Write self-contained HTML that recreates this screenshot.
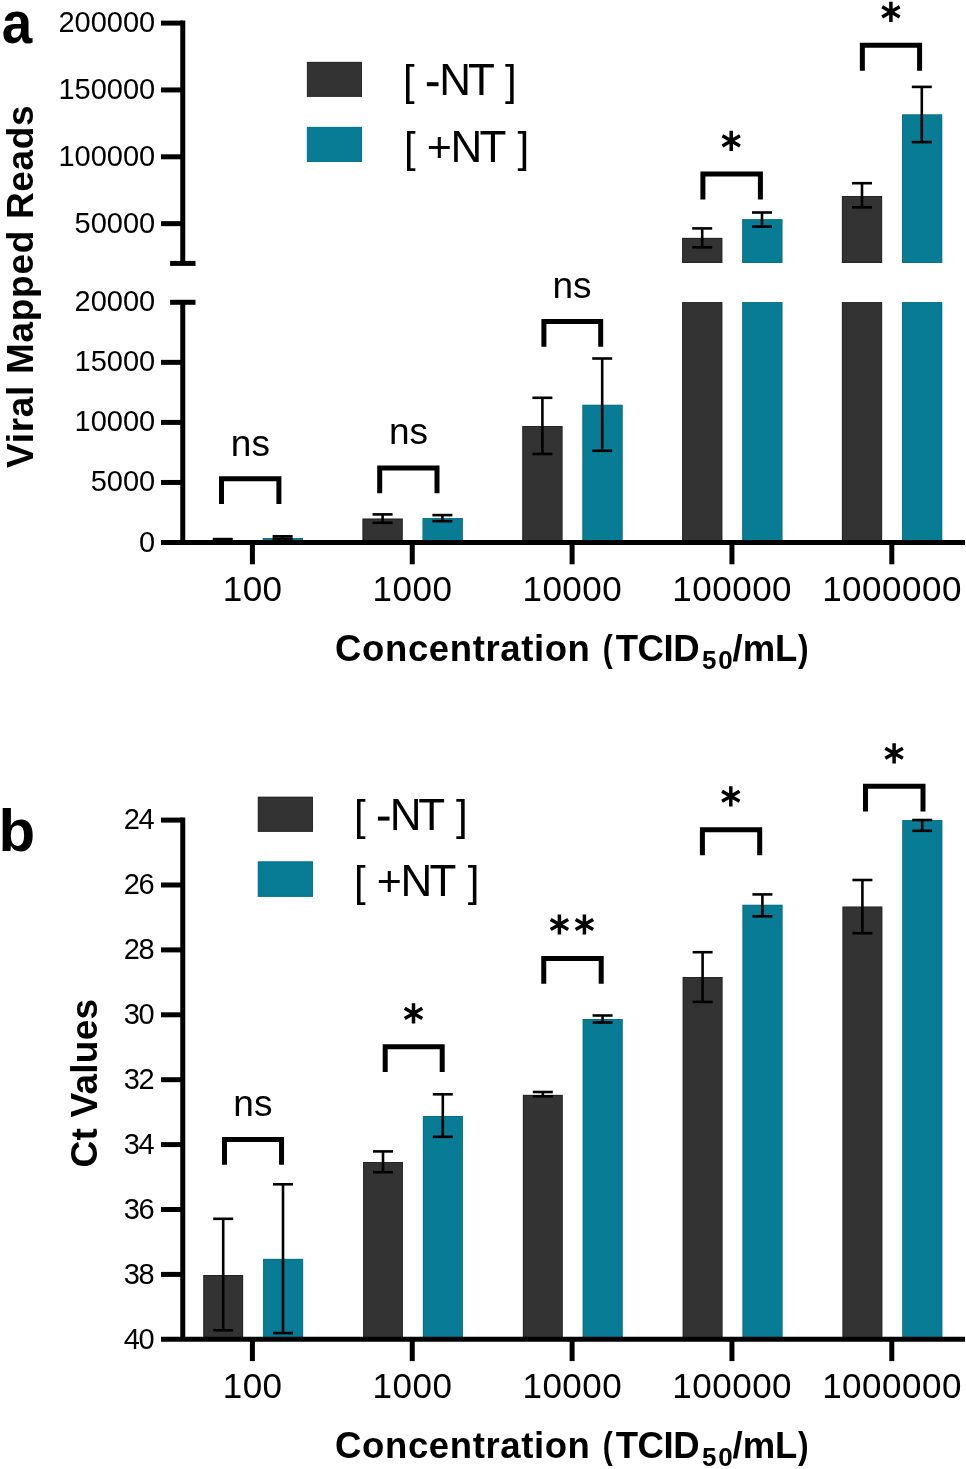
<!DOCTYPE html>
<html><head><meta charset="utf-8"><style>
html,body{margin:0;padding:0;background:#fff;overflow:hidden;}
svg{display:block;will-change:transform;}
text{font-family:"Liberation Sans",sans-serif;fill:#000;}
</style></head><body>
<svg width="966" height="1469" viewBox="0 0 966 1469">
<rect width="966" height="1469" fill="#fff"/>
<rect x="306.90" y="61.90" width="55.10" height="35.00" fill="#333333"/>
<rect x="307.40" y="62.40" width="54.10" height="34.00" fill="none" stroke="#1a1a1a" stroke-width="1" stroke-opacity="0.35"/>
<rect x="306.90" y="126.90" width="55.10" height="35.10" fill="#087c95"/>
<rect x="307.40" y="127.40" width="54.10" height="34.10" fill="none" stroke="#056a80" stroke-width="1" stroke-opacity="0.35"/>
<rect x="262.80" y="538.10" width="40.20" height="4.40" fill="#087c95"/>
<rect x="263.30" y="538.60" width="39.20" height="3.40" fill="none" stroke="#056a80" stroke-width="1" stroke-opacity="0.6"/>
<rect x="362.50" y="518.60" width="40.20" height="23.90" fill="#333333"/>
<rect x="363.00" y="519.10" width="39.20" height="22.90" fill="none" stroke="#1a1a1a" stroke-width="1" stroke-opacity="0.6"/>
<rect x="422.60" y="518.10" width="40.20" height="24.40" fill="#087c95"/>
<rect x="423.10" y="518.60" width="39.20" height="23.40" fill="none" stroke="#056a80" stroke-width="1" stroke-opacity="0.6"/>
<rect x="522.30" y="426.00" width="40.20" height="116.50" fill="#333333"/>
<rect x="522.80" y="426.50" width="39.20" height="115.50" fill="none" stroke="#1a1a1a" stroke-width="1" stroke-opacity="0.6"/>
<rect x="582.40" y="404.80" width="40.20" height="137.70" fill="#087c95"/>
<rect x="582.90" y="405.30" width="39.20" height="136.70" fill="none" stroke="#056a80" stroke-width="1" stroke-opacity="0.6"/>
<rect x="682.10" y="302.10" width="40.20" height="240.40" fill="#333333"/>
<rect x="682.60" y="302.60" width="39.20" height="239.40" fill="none" stroke="#1a1a1a" stroke-width="1" stroke-opacity="0.6"/>
<rect x="742.20" y="302.10" width="40.20" height="240.40" fill="#087c95"/>
<rect x="742.70" y="302.60" width="39.20" height="239.40" fill="none" stroke="#056a80" stroke-width="1" stroke-opacity="0.6"/>
<rect x="841.90" y="302.10" width="40.20" height="240.40" fill="#333333"/>
<rect x="842.40" y="302.60" width="39.20" height="239.40" fill="none" stroke="#1a1a1a" stroke-width="1" stroke-opacity="0.6"/>
<rect x="902.00" y="302.10" width="40.20" height="240.40" fill="#087c95"/>
<rect x="902.50" y="302.60" width="39.20" height="239.40" fill="none" stroke="#056a80" stroke-width="1" stroke-opacity="0.6"/>
<rect x="682.10" y="237.90" width="40.20" height="25.10" fill="#333333"/>
<rect x="682.60" y="238.40" width="39.20" height="24.10" fill="none" stroke="#1a1a1a" stroke-width="1" stroke-opacity="0.6"/>
<rect x="742.20" y="219.20" width="40.20" height="43.80" fill="#087c95"/>
<rect x="742.70" y="219.70" width="39.20" height="42.80" fill="none" stroke="#056a80" stroke-width="1" stroke-opacity="0.6"/>
<rect x="841.90" y="196.00" width="40.20" height="67.00" fill="#333333"/>
<rect x="842.40" y="196.50" width="39.20" height="66.00" fill="none" stroke="#1a1a1a" stroke-width="1" stroke-opacity="0.6"/>
<rect x="902.00" y="114.40" width="40.20" height="148.60" fill="#087c95"/>
<rect x="902.50" y="114.90" width="39.20" height="147.60" fill="none" stroke="#056a80" stroke-width="1" stroke-opacity="0.6"/>
<rect x="257.80" y="796.70" width="55.20" height="35.20" fill="#333333"/>
<rect x="258.30" y="797.20" width="54.20" height="34.20" fill="none" stroke="#1a1a1a" stroke-width="1" stroke-opacity="0.35"/>
<rect x="257.80" y="861.30" width="55.20" height="35.60" fill="#087c95"/>
<rect x="258.30" y="861.80" width="54.20" height="34.60" fill="none" stroke="#056a80" stroke-width="1" stroke-opacity="0.35"/>
<rect x="203.30" y="1275.00" width="39.80" height="64.30" fill="#333333"/>
<rect x="203.80" y="1275.50" width="38.80" height="63.30" fill="none" stroke="#1a1a1a" stroke-width="1" stroke-opacity="0.6"/>
<rect x="263.10" y="1258.90" width="40.00" height="80.40" fill="#087c95"/>
<rect x="263.60" y="1259.40" width="39.00" height="79.40" fill="none" stroke="#056a80" stroke-width="1" stroke-opacity="0.6"/>
<rect x="363.10" y="1162.00" width="39.80" height="177.30" fill="#333333"/>
<rect x="363.60" y="1162.50" width="38.80" height="176.30" fill="none" stroke="#1a1a1a" stroke-width="1" stroke-opacity="0.6"/>
<rect x="422.90" y="1116.00" width="40.00" height="223.30" fill="#087c95"/>
<rect x="423.40" y="1116.50" width="39.00" height="222.30" fill="none" stroke="#056a80" stroke-width="1" stroke-opacity="0.6"/>
<rect x="522.90" y="1094.90" width="39.80" height="244.40" fill="#333333"/>
<rect x="523.40" y="1095.40" width="38.80" height="243.40" fill="none" stroke="#1a1a1a" stroke-width="1" stroke-opacity="0.6"/>
<rect x="582.70" y="1019.00" width="40.00" height="320.30" fill="#087c95"/>
<rect x="583.20" y="1019.50" width="39.00" height="319.30" fill="none" stroke="#056a80" stroke-width="1" stroke-opacity="0.6"/>
<rect x="682.70" y="977.00" width="39.80" height="362.30" fill="#333333"/>
<rect x="683.20" y="977.50" width="38.80" height="361.30" fill="none" stroke="#1a1a1a" stroke-width="1" stroke-opacity="0.6"/>
<rect x="742.50" y="904.80" width="40.00" height="434.50" fill="#087c95"/>
<rect x="743.00" y="905.30" width="39.00" height="433.50" fill="none" stroke="#056a80" stroke-width="1" stroke-opacity="0.6"/>
<rect x="842.50" y="906.60" width="39.80" height="432.70" fill="#333333"/>
<rect x="843.00" y="907.10" width="38.80" height="431.70" fill="none" stroke="#1a1a1a" stroke-width="1" stroke-opacity="0.6"/>
<rect x="902.30" y="820.10" width="40.00" height="519.20" fill="#087c95"/>
<rect x="902.80" y="820.60" width="39.00" height="518.20" fill="none" stroke="#056a80" stroke-width="1" stroke-opacity="0.6"/>
<text transform="translate(1.8,43.2) scale(0.913,0.99)" font-size="60" font-weight="bold">a</text>
<text transform="translate(33,467.9) rotate(-90)" font-size="37" font-weight="bold" textLength="362.6" lengthAdjust="spacing">Viral Mapped Reads</text>
<line x1="182.75" y1="20.6" x2="182.75" y2="263.4" stroke="#000" stroke-width="5"/>
<line x1="161" y1="23.1" x2="182.75" y2="23.1" stroke="#000" stroke-width="5"/>
<line x1="161" y1="89.94999999999999" x2="182.75" y2="89.94999999999999" stroke="#000" stroke-width="5"/>
<line x1="161" y1="156.79999999999998" x2="182.75" y2="156.79999999999998" stroke="#000" stroke-width="5"/>
<line x1="161" y1="223.64999999999998" x2="182.75" y2="223.64999999999998" stroke="#000" stroke-width="5"/>
<line x1="170.1" y1="263.4" x2="195.5" y2="263.4" stroke="#000" stroke-width="5"/>
<line x1="182.75" y1="302.3" x2="182.75" y2="542.5" stroke="#000" stroke-width="5"/>
<line x1="170.1" y1="302.3" x2="195.5" y2="302.3" stroke="#000" stroke-width="5"/>
<line x1="161" y1="482.45" x2="182.75" y2="482.45" stroke="#000" stroke-width="5"/>
<line x1="161" y1="422.4" x2="182.75" y2="422.4" stroke="#000" stroke-width="5"/>
<line x1="161" y1="362.35" x2="182.75" y2="362.35" stroke="#000" stroke-width="5"/>
<line x1="161" y1="542.5" x2="965" y2="542.5" stroke="#000" stroke-width="5"/>
<line x1="252.4" y1="542.5" x2="252.4" y2="564.3" stroke="#000" stroke-width="5"/>
<line x1="412.25" y1="542.5" x2="412.25" y2="564.3" stroke="#000" stroke-width="5"/>
<line x1="572.1" y1="542.5" x2="572.1" y2="564.3" stroke="#000" stroke-width="5"/>
<line x1="731.9499999999999" y1="542.5" x2="731.9499999999999" y2="564.3" stroke="#000" stroke-width="5"/>
<line x1="891.8" y1="542.5" x2="891.8" y2="564.3" stroke="#000" stroke-width="5"/>
<text x="155.2" y="32.1" font-size="29" text-anchor="end" >200000</text>
<text x="155.2" y="98.94999999999999" font-size="29" text-anchor="end" >150000</text>
<text x="155.2" y="165.79999999999998" font-size="29" text-anchor="end" >100000</text>
<text x="155.2" y="232.64999999999998" font-size="29" text-anchor="end" >50000</text>
<text x="155.2" y="551.5" font-size="29" text-anchor="end" >0</text>
<text x="155.2" y="491.45" font-size="29" text-anchor="end" >5000</text>
<text x="155.2" y="431.4" font-size="29" text-anchor="end" >10000</text>
<text x="155.2" y="371.35" font-size="29" text-anchor="end" >15000</text>
<text x="155.2" y="311.3" font-size="29" text-anchor="end" >20000</text>
<text x="252.65" y="601.3" font-size="35" text-anchor="middle" letter-spacing="0.5">100</text>
<text x="412.5" y="601.3" font-size="35" text-anchor="middle" letter-spacing="0.5">1000</text>
<text x="572.35" y="601.3" font-size="35" text-anchor="middle" letter-spacing="0.5">10000</text>
<text x="732.1999999999999" y="601.3" font-size="35" text-anchor="middle" letter-spacing="0.5">100000</text>
<text x="892.05" y="601.3" font-size="35" text-anchor="middle" letter-spacing="0.5">1000000</text>
<text x="335.1" y="661.4" font-size="36.5" font-weight="bold" textLength="254.8" lengthAdjust="spacing">Concentration</text>
<text transform="translate(602.66,661.4) scale(0.82,1)" font-size="36.5" font-weight="bold">(</text>
<text x="615.7" y="661.4" font-size="36.5" font-weight="bold" textLength="83.8" lengthAdjust="spacing">TCID</text>
<text x="702.0" y="669.0" font-size="26" font-weight="bold">5</text>
<text x="718.3" y="669.0" font-size="26" font-weight="bold">0</text>
<text x="732.5" y="661.4" font-size="36.5" font-weight="bold">/mL</text>
<text transform="translate(798.00,661.4) scale(0.87,1)" font-size="36.5" font-weight="bold">)</text>
<text x="403.01" y="95.4" font-size="42">[</text>
<rect x="426.9" y="82.20" width="11.6" height="4" fill="#000"/>
<text x="439.19" y="95.4" font-size="44">N</text>
<text x="467.91" y="95.4" font-size="44">T</text>
<text x="505.07" y="95.4" font-size="42">]</text>
<text x="404.11" y="161.7" font-size="42">[</text>
<text x="426.80" y="161.7" font-size="43">+</text>
<text x="450.49" y="161.7" font-size="44">N</text>
<text x="479.51" y="161.7" font-size="44">T</text>
<text x="517.47" y="161.7" font-size="42">]</text>
<line x1="222.8" y1="539.1" x2="222.8" y2="541" stroke="#000" stroke-width="2.6"/>
<line x1="212.8" y1="539.1" x2="232.8" y2="539.1" stroke="#000" stroke-width="2.6"/>
<line x1="212.8" y1="541" x2="232.8" y2="541" stroke="#000" stroke-width="2.6"/>
<line x1="282.6" y1="536.3" x2="282.6" y2="538.6" stroke="#000" stroke-width="2.6"/>
<line x1="272.6" y1="536.3" x2="292.6" y2="536.3" stroke="#000" stroke-width="2.6"/>
<line x1="272.6" y1="538.6" x2="292.6" y2="538.6" stroke="#000" stroke-width="2.6"/>
<line x1="382.6" y1="514.4" x2="382.6" y2="522.8" stroke="#000" stroke-width="2.6"/>
<line x1="372.6" y1="514.4" x2="392.6" y2="514.4" stroke="#000" stroke-width="2.6"/>
<line x1="372.6" y1="522.8" x2="392.6" y2="522.8" stroke="#000" stroke-width="2.6"/>
<line x1="442.40000000000003" y1="515.1" x2="442.40000000000003" y2="521.2" stroke="#000" stroke-width="2.6"/>
<line x1="432.40000000000003" y1="515.1" x2="452.40000000000003" y2="515.1" stroke="#000" stroke-width="2.6"/>
<line x1="432.40000000000003" y1="521.2" x2="452.40000000000003" y2="521.2" stroke="#000" stroke-width="2.6"/>
<line x1="542.4000000000001" y1="397.8" x2="542.4000000000001" y2="454" stroke="#000" stroke-width="2.6"/>
<line x1="532.4000000000001" y1="397.8" x2="552.4000000000001" y2="397.8" stroke="#000" stroke-width="2.6"/>
<line x1="532.4000000000001" y1="454" x2="552.4000000000001" y2="454" stroke="#000" stroke-width="2.6"/>
<line x1="602.2" y1="358.5" x2="602.2" y2="450.8" stroke="#000" stroke-width="2.6"/>
<line x1="592.2" y1="358.5" x2="612.2" y2="358.5" stroke="#000" stroke-width="2.6"/>
<line x1="592.2" y1="450.8" x2="612.2" y2="450.8" stroke="#000" stroke-width="2.6"/>
<line x1="702.2" y1="228.4" x2="702.2" y2="247.3" stroke="#000" stroke-width="2.6"/>
<line x1="692.2" y1="228.4" x2="712.2" y2="228.4" stroke="#000" stroke-width="2.6"/>
<line x1="692.2" y1="247.3" x2="712.2" y2="247.3" stroke="#000" stroke-width="2.6"/>
<line x1="762.0" y1="212.5" x2="762.0" y2="226.6" stroke="#000" stroke-width="2.6"/>
<line x1="752.0" y1="212.5" x2="772.0" y2="212.5" stroke="#000" stroke-width="2.6"/>
<line x1="752.0" y1="226.6" x2="772.0" y2="226.6" stroke="#000" stroke-width="2.6"/>
<line x1="862.0" y1="183.2" x2="862.0" y2="207.3" stroke="#000" stroke-width="2.6"/>
<line x1="852.0" y1="183.2" x2="872.0" y2="183.2" stroke="#000" stroke-width="2.6"/>
<line x1="852.0" y1="207.3" x2="872.0" y2="207.3" stroke="#000" stroke-width="2.6"/>
<line x1="921.8000000000001" y1="86.9" x2="921.8000000000001" y2="142.1" stroke="#000" stroke-width="2.6"/>
<line x1="911.8000000000001" y1="86.9" x2="931.8000000000001" y2="86.9" stroke="#000" stroke-width="2.6"/>
<line x1="911.8000000000001" y1="142.1" x2="931.8000000000001" y2="142.1" stroke="#000" stroke-width="2.6"/>
<path d="M221.5 504.1 V478.75 H278.9 V504.1" fill="none" stroke="#000" stroke-width="5" stroke-linejoin="miter" stroke-linecap="butt"/>
<path d="M379.7 493.2 V468 H437 V493.2" fill="none" stroke="#000" stroke-width="5" stroke-linejoin="miter" stroke-linecap="butt"/>
<path d="M543.9 346.8 V321.4 H600.7 V346.8" fill="none" stroke="#000" stroke-width="5" stroke-linejoin="miter" stroke-linecap="butt"/>
<path d="M702.9 199.6 V173.95 H760.4 V199.6" fill="none" stroke="#000" stroke-width="5" stroke-linejoin="miter" stroke-linecap="butt"/>
<path d="M862.35 70.7 V45.2 H919.6 V70.7" fill="none" stroke="#000" stroke-width="5" stroke-linejoin="miter" stroke-linecap="butt"/>
<text x="250.4" y="456" font-size="37" text-anchor="middle" >ns</text>
<text x="408.6" y="444.3" font-size="37" text-anchor="middle" >ns</text>
<text x="572.0" y="298" font-size="37" text-anchor="middle" >ns</text>
<path d="M731.2 130.8 V151.0 M722.45 135.85 L739.95 145.95 M722.45 145.95 L739.95 135.85" stroke="#000" stroke-width="3.5" fill="none"/>
<path d="M890.9 1.75 V21.95 M882.15 6.80 L899.65 16.90 M882.15 16.90 L899.65 6.80" stroke="#000" stroke-width="3.5" fill="none"/>
<text x="-1.55" y="851.3" font-size="60" font-weight="bold">b</text>
<text transform="translate(97.2,1167.5) rotate(-90)" font-size="37" font-weight="bold" textLength="168.6" lengthAdjust="spacing">Ct Values</text>
<line x1="182.75" y1="817.6" x2="182.75" y2="1339.3" stroke="#000" stroke-width="5"/>
<line x1="161" y1="820.1" x2="182.75" y2="820.1" stroke="#000" stroke-width="5"/>
<line x1="161" y1="885.0" x2="182.75" y2="885.0" stroke="#000" stroke-width="5"/>
<line x1="161" y1="949.9" x2="182.75" y2="949.9" stroke="#000" stroke-width="5"/>
<line x1="161" y1="1014.8" x2="182.75" y2="1014.8" stroke="#000" stroke-width="5"/>
<line x1="161" y1="1079.7" x2="182.75" y2="1079.7" stroke="#000" stroke-width="5"/>
<line x1="161" y1="1144.6" x2="182.75" y2="1144.6" stroke="#000" stroke-width="5"/>
<line x1="161" y1="1209.5" x2="182.75" y2="1209.5" stroke="#000" stroke-width="5"/>
<line x1="161" y1="1274.4" x2="182.75" y2="1274.4" stroke="#000" stroke-width="5"/>
<text x="153.4" y="829.4" font-size="29" text-anchor="end" letter-spacing="-1.3">24</text>
<text x="153.4" y="894.3" font-size="29" text-anchor="end" letter-spacing="-1.3">26</text>
<text x="153.4" y="959.1999999999999" font-size="29" text-anchor="end" letter-spacing="-1.3">28</text>
<text x="153.4" y="1024.1" font-size="29" text-anchor="end" letter-spacing="-1.3">30</text>
<text x="153.4" y="1089.0" font-size="29" text-anchor="end" letter-spacing="-1.3">32</text>
<text x="153.4" y="1153.8999999999999" font-size="29" text-anchor="end" letter-spacing="-1.3">34</text>
<text x="153.4" y="1218.8" font-size="29" text-anchor="end" letter-spacing="-1.3">36</text>
<text x="153.4" y="1283.7" font-size="29" text-anchor="end" letter-spacing="-1.3">38</text>
<text x="153.4" y="1348.6" font-size="29" text-anchor="end" letter-spacing="-1.3">40</text>
<line x1="161" y1="1339.3" x2="965" y2="1339.3" stroke="#000" stroke-width="5"/>
<line x1="252.4" y1="1339.3" x2="252.4" y2="1361.1" stroke="#000" stroke-width="5"/>
<text x="252.65" y="1398.1" font-size="35" text-anchor="middle" letter-spacing="0.5">100</text>
<line x1="412.25" y1="1339.3" x2="412.25" y2="1361.1" stroke="#000" stroke-width="5"/>
<text x="412.5" y="1398.1" font-size="35" text-anchor="middle" letter-spacing="0.5">1000</text>
<line x1="572.1" y1="1339.3" x2="572.1" y2="1361.1" stroke="#000" stroke-width="5"/>
<text x="572.35" y="1398.1" font-size="35" text-anchor="middle" letter-spacing="0.5">10000</text>
<line x1="731.9499999999999" y1="1339.3" x2="731.9499999999999" y2="1361.1" stroke="#000" stroke-width="5"/>
<text x="732.1999999999999" y="1398.1" font-size="35" text-anchor="middle" letter-spacing="0.5">100000</text>
<line x1="891.8" y1="1339.3" x2="891.8" y2="1361.1" stroke="#000" stroke-width="5"/>
<text x="892.05" y="1398.1" font-size="35" text-anchor="middle" letter-spacing="0.5">1000000</text>
<text x="335.1" y="1458.4" font-size="36.5" font-weight="bold" textLength="254.8" lengthAdjust="spacing">Concentration</text>
<text transform="translate(602.66,1458.4) scale(0.82,1)" font-size="36.5" font-weight="bold">(</text>
<text x="615.7" y="1458.4" font-size="36.5" font-weight="bold" textLength="83.8" lengthAdjust="spacing">TCID</text>
<text x="702.0" y="1466.0" font-size="26" font-weight="bold">5</text>
<text x="718.3" y="1466.0" font-size="26" font-weight="bold">0</text>
<text x="732.5" y="1458.4" font-size="36.5" font-weight="bold">/mL</text>
<text transform="translate(798.00,1458.4) scale(0.87,1)" font-size="36.5" font-weight="bold">)</text>
<text x="354.01" y="829.8" font-size="42">[</text>
<rect x="377.9" y="816.60" width="11.6" height="4" fill="#000"/>
<text x="389.69" y="829.8" font-size="44">N</text>
<text x="418.31" y="829.8" font-size="44">T</text>
<text x="455.97" y="829.8" font-size="42">]</text>
<text x="354.01" y="896" font-size="42">[</text>
<text x="376.80" y="896" font-size="43">+</text>
<text x="400.49" y="896" font-size="44">N</text>
<text x="429.51" y="896" font-size="44">T</text>
<text x="467.87" y="896" font-size="42">]</text>
<line x1="223.20000000000002" y1="1218.8" x2="223.20000000000002" y2="1330.3" stroke="#000" stroke-width="2.6"/>
<line x1="213.20000000000002" y1="1218.8" x2="233.20000000000002" y2="1218.8" stroke="#000" stroke-width="2.6"/>
<line x1="213.20000000000002" y1="1330.3" x2="233.20000000000002" y2="1330.3" stroke="#000" stroke-width="2.6"/>
<line x1="283.0" y1="1184.3" x2="283.0" y2="1333.1" stroke="#000" stroke-width="2.6"/>
<line x1="273.0" y1="1184.3" x2="293.0" y2="1184.3" stroke="#000" stroke-width="2.6"/>
<line x1="273.0" y1="1333.1" x2="293.0" y2="1333.1" stroke="#000" stroke-width="2.6"/>
<line x1="383.0" y1="1151.4" x2="383.0" y2="1172.2" stroke="#000" stroke-width="2.6"/>
<line x1="373.0" y1="1151.4" x2="393.0" y2="1151.4" stroke="#000" stroke-width="2.6"/>
<line x1="373.0" y1="1172.2" x2="393.0" y2="1172.2" stroke="#000" stroke-width="2.6"/>
<line x1="442.8" y1="1094.3" x2="442.8" y2="1136.8" stroke="#000" stroke-width="2.6"/>
<line x1="432.8" y1="1094.3" x2="452.8" y2="1094.3" stroke="#000" stroke-width="2.6"/>
<line x1="432.8" y1="1136.8" x2="452.8" y2="1136.8" stroke="#000" stroke-width="2.6"/>
<line x1="542.8000000000001" y1="1092" x2="542.8000000000001" y2="1096.3" stroke="#000" stroke-width="2.6"/>
<line x1="532.8000000000001" y1="1092" x2="552.8000000000001" y2="1092" stroke="#000" stroke-width="2.6"/>
<line x1="532.8000000000001" y1="1096.3" x2="552.8000000000001" y2="1096.3" stroke="#000" stroke-width="2.6"/>
<line x1="602.6" y1="1015.5" x2="602.6" y2="1022.5" stroke="#000" stroke-width="2.6"/>
<line x1="592.6" y1="1015.5" x2="612.6" y2="1015.5" stroke="#000" stroke-width="2.6"/>
<line x1="592.6" y1="1022.5" x2="612.6" y2="1022.5" stroke="#000" stroke-width="2.6"/>
<line x1="702.6" y1="952.2" x2="702.6" y2="1001.9" stroke="#000" stroke-width="2.6"/>
<line x1="692.6" y1="952.2" x2="712.6" y2="952.2" stroke="#000" stroke-width="2.6"/>
<line x1="692.6" y1="1001.9" x2="712.6" y2="1001.9" stroke="#000" stroke-width="2.6"/>
<line x1="762.4" y1="894.4" x2="762.4" y2="916.3" stroke="#000" stroke-width="2.6"/>
<line x1="752.4" y1="894.4" x2="772.4" y2="894.4" stroke="#000" stroke-width="2.6"/>
<line x1="752.4" y1="916.3" x2="772.4" y2="916.3" stroke="#000" stroke-width="2.6"/>
<line x1="862.4" y1="880" x2="862.4" y2="933.2" stroke="#000" stroke-width="2.6"/>
<line x1="852.4" y1="880" x2="872.4" y2="880" stroke="#000" stroke-width="2.6"/>
<line x1="852.4" y1="933.2" x2="872.4" y2="933.2" stroke="#000" stroke-width="2.6"/>
<line x1="922.2" y1="820" x2="922.2" y2="830.8" stroke="#000" stroke-width="2.6"/>
<line x1="912.2" y1="820" x2="932.2" y2="820" stroke="#000" stroke-width="2.6"/>
<line x1="912.2" y1="830.8" x2="932.2" y2="830.8" stroke="#000" stroke-width="2.6"/>
<path d="M224.5 1164.8 V1139.6 H281.55 V1164.8" fill="none" stroke="#000" stroke-width="5" stroke-linejoin="miter" stroke-linecap="butt"/>
<path d="M385.2 1071.9 V1046.65 H442.2 V1071.9" fill="none" stroke="#000" stroke-width="5" stroke-linejoin="miter" stroke-linecap="butt"/>
<path d="M543.75 983.7 V958.4 H601.2 V983.7" fill="none" stroke="#000" stroke-width="5" stroke-linejoin="miter" stroke-linecap="butt"/>
<path d="M702.4 855.2 V829.65 H759.7 V855.2" fill="none" stroke="#000" stroke-width="5" stroke-linejoin="miter" stroke-linecap="butt"/>
<path d="M865.5 811.6 V786.15 H923 V811.6" fill="none" stroke="#000" stroke-width="5" stroke-linejoin="miter" stroke-linecap="butt"/>
<text x="252.9" y="1116.4" font-size="37" text-anchor="middle" >ns</text>
<path d="M413.5 1003.3 V1023.5 M404.75 1008.35 L422.25 1018.45 M404.75 1018.45 L422.25 1008.35" stroke="#000" stroke-width="3.5" fill="none"/>
<path d="M559.4 914.4 V934.6 M550.65 919.45 L568.15 929.55 M550.65 929.55 L568.15 919.45" stroke="#000" stroke-width="3.5" fill="none"/>
<path d="M584.4 914.4 V934.6 M575.65 919.45 L593.15 929.55 M575.65 929.55 L593.15 919.45" stroke="#000" stroke-width="3.5" fill="none"/>
<path d="M730.8 786.1999999999999 V806.4 M722.05 791.25 L739.55 801.35 M722.05 801.35 L739.55 791.25" stroke="#000" stroke-width="3.5" fill="none"/>
<path d="M894.1 743.1999999999999 V763.4 M885.35 748.25 L902.85 758.35 M885.35 758.35 L902.85 748.25" stroke="#000" stroke-width="3.5" fill="none"/>
</svg>
</body></html>
